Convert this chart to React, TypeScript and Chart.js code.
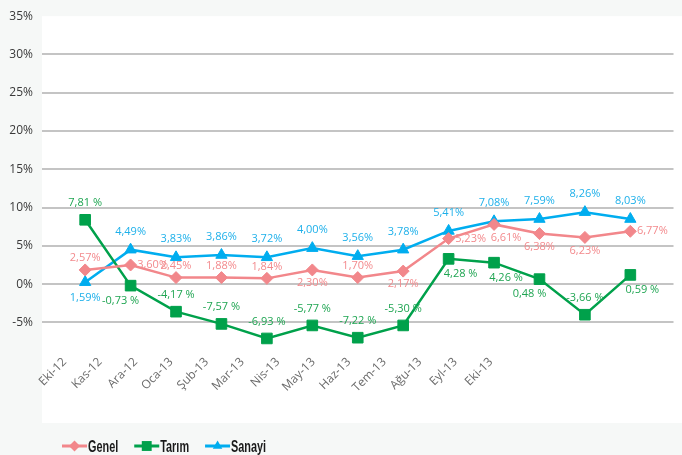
import React, { useEffect, useRef } from 'react';
import { Chart, registerables } from 'chart.js';

Chart.register(...registerables);

const categories = ['Eki-12', 'Kas-12', 'Ara-12', 'Oca-13', 'Şub-13', 'Mar-13', 'Nis-13', 'May-13', 'Haz-13', 'Tem-13', 'Ağu-13', 'Eyl-13', 'Eki-13'];

const genel = [1.85, 2.5, 0.85, 0.85, 0.75, 1.85, 0.85, 1.7, 5.95, 7.8, 6.6, 6.1, 6.9];
const tarim = [8.4, -0.2, -3.6, -5.2, -7.1, -5.4, -7.0, -5.4, 3.3, 2.8, 0.65, -4.0, 1.2];
const sanayi = [0.25, 4.5, 3.5, 3.8, 3.5, 4.7, 3.65, 4.5, 6.95, 8.2, 8.5, 9.4, 8.5];

const genelLabels = ['2,57%', '3,60%', '2,45%', '1,88%', '1,84%', '2,30%', '1,70%', '2,17%', '5,23%', '6,61%', '6,38%', '6,23%', '6,77%'];
const tarimLabels = ['7,81 %', '-0,73 %', '-4,17 %', '-7,57 %', '-6,93 %', '-5,77 %', '-7,22 %', '-5,30 %', '4,28 %', '4,26 %', '0,48 %', '-3,66 %', '0,59 %'];
const sanayiLabels = ['1,59%', '4,49%', '3,83%', '3,86%', '3,72%', '4,00%', '3,56%', '3,78%', '5,41%', '7,08%', '7,59%', '8,26%', '8,03%'];

const yTickValues = [-5, 0, 5, 10, 15, 20, 25, 30, 35];

// label placement styles (not data)
const genelAnchors = ['top', 'right', 'top', 'top', 'top', 'bottom', 'top', 'bottom', 'right', 'bottomRight', 'bottom', 'bottom', 'right'];
const tarimAnchors = ['top', 'bottomLeft', 'top', 'top', 'top', 'top', 'top', 'top', 'bottomRight', 'bottomRight', 'bottomLeft', 'top', 'bottomRight'];
const sanayiAnchors = ['bottom', 'top', 'top', 'top', 'top', 'top', 'top', 'top', 'top', 'top', 'top', 'top', 'top'];

const PINK = '#f2878b';
const GREEN = '#00a14b';
const BLUE = '#00adef';

const bgPlugin = {
  id: 'bgPlugin',
  beforeDraw(chart: any) {
    const { ctx, chartArea, width, height } = chart;
    ctx.save();
    ctx.fillStyle = '#f6f8f7';
    ctx.fillRect(0, 0, width, height);
    ctx.fillStyle = '#ffffff';
    ctx.fillRect(chartArea.left, chartArea.top, width - chartArea.left, 423 - chartArea.top);
    ctx.restore();
  },
};

const labelPlugin = {
  id: 'labelPlugin',
  afterDatasetsDraw(chart: any) {
    const { ctx } = chart;
    ctx.save();
    ctx.font = '11px "Open Sans", "Noto Sans", sans-serif';
    ctx.textAlign = 'center';
    ctx.textBaseline = 'middle';
    chart.data.datasets.forEach((ds: any, di: number) => {
      const meta = chart.getDatasetMeta(di);
      const st = ds.labelStyle;
      meta.data.forEach((pt: any, i: number) => {
        const a = st.anchors[i];
        let dx = 0;
        let dy = 0;
        if (a === 'top') dy = -st.up;
        else if (a === 'bottom') dy = st.down;
        else if (a === 'right') { dx = 22; dy = 0; }
        else if (a === 'bottomRight') { dx = 12; dy = st.down; }
        else if (a === 'bottomLeft') { dx = -10; dy = st.down; }
        ctx.fillStyle = st.color;
        ctx.fillText(st.texts[i], pt.x + dx, pt.y + dy);
      });
    });
    ctx.restore();
  },
};

function drawMarker(ctx: CanvasRenderingContext2D, style: string, x: number, y: number, r: number) {
  ctx.beginPath();
  if (style === 'rectRot') {
    ctx.moveTo(x, y - r);
    ctx.lineTo(x + r, y);
    ctx.lineTo(x, y + r);
    ctx.lineTo(x - r, y);
  } else if (style === 'rect') {
    const s = r * Math.SQRT1_2;
    ctx.rect(x - s, y - s, 2 * s, 2 * s);
  } else {
    ctx.moveTo(x, y - r);
    ctx.lineTo(x + r * 0.866, y + r / 2);
    ctx.lineTo(x - r * 0.866, y + r / 2);
  }
  ctx.closePath();
  ctx.fill();
}

const legendPlugin = {
  id: 'legendPlugin',
  afterDraw(chart: any) {
    const { ctx } = chart;
    ctx.save();
    let x = 62;
    const y = 446;
    const squeeze = 0.64;
    ctx.font = 'bold 17px "Liberation Sans", Arial, sans-serif';
    ctx.textBaseline = 'middle';
    ctx.textAlign = 'left';
    chart.data.datasets.forEach((ds: any) => {
      ctx.strokeStyle = ds.borderColor;
      ctx.lineWidth = 3;
      ctx.beginPath();
      ctx.moveTo(x, y);
      ctx.lineTo(x + 25, y);
      ctx.stroke();
      ctx.fillStyle = ds.borderColor;
      drawMarker(ctx, ds.pointStyle, x + 12.5, y, ds.pointStyle === 'rect' ? 7 : 5.5);
      ctx.fillStyle = '#1a1a1a';
      const tw = ctx.measureText(ds.label).width * squeeze;
      ctx.save();
      ctx.translate(x + 26, y + 1);
      ctx.scale(squeeze, 1);
      ctx.fillText(ds.label, 0, 0);
      ctx.restore();
      x += 26 + tw + 16;
    });
    ctx.restore();
  },
};

export default function App() {
  const ref = useRef<HTMLCanvasElement | null>(null);

  useEffect(() => {
    if (!ref.current) return;
    const mk = (label: string, data: number[], color: string, style: string, radius: number, texts: string[], anchors: string[], labelColor: string, up: number, down: number) => ({
      label,
      data: data.map((v, i) => ({ x: i, y: v })),
      borderColor: color,
      backgroundColor: color,
      borderWidth: 2.5,
      pointStyle: style,
      pointRadius: radius,
      pointBorderWidth: 1,
      pointBackgroundColor: color,
      pointBorderColor: color,
      tension: 0,
      xAxisID: 'x',
      yAxisID: 'y',
      labelStyle: { texts, anchors, color: labelColor, up, down },
    });

    const chart = new Chart(ref.current, {
      type: 'line',
      data: {
        datasets: [
          mk('Genel', genel, PINK, 'rectRot', 6, genelLabels, genelAnchors, '#f38a8d', 12, 13),
          mk('Tarım', tarim, GREEN, 'rect', 7.5, tarimLabels, tarimAnchors, '#1fa552', 17, 15),
          mk('Sanayi', sanayi, BLUE, 'triangle', 6.5, sanayiLabels, sanayiAnchors, '#1eb0ea', 18, 16),
        ] as any,
      },
      options: {
        responsive: false,
        animation: false,
        layout: { padding: { top: 14, left: 0, right: 0, bottom: 0 } },
        plugins: {
          legend: { display: false },
          tooltip: { enabled: false },
        },
        scales: {
          x: {
            type: 'linear',
            display: false,
            min: -0.95,
            max: categories.length - 1 + 0.95,
          },
          xl: {
            type: 'linear',
            position: 'bottom',
            min: -0.64,
            max: 17.14,
            grid: { display: false, drawTicks: false },
            border: { display: false },
            afterBuildTicks: (scale: any) => {
              scale.ticks = categories.map((_, i) => ({ value: i }));
            },
            afterFit: (scale: any) => {
              scale.height = 102;
            },
            ticks: {
              autoSkip: false,
              minRotation: 45,
              maxRotation: 45,
              padding: 2,
              color: '#6b6b6b',
              font: { family: '"Open Sans", "Noto Sans", sans-serif', size: 12 },
              callback: (v: any) => categories[v] ?? '',
            },
          },
          y: {
            type: 'linear',
            min: -9,
            max: 35,
            afterBuildTicks: (scale: any) => {
              scale.ticks = yTickValues.map((v) => ({ value: v }));
            },
            afterFit: (scale: any) => {
              scale.width = 42;
            },
            grid: {
              drawTicks: false,
              color: (c: any) => (c.tick && c.tick.value === 35 ? 'rgba(0,0,0,0)' : '#c4c4c4'),
              lineWidth: 2,
            },
            border: { display: false },
            ticks: {
              padding: 9,
              color: '#3a3a3a',
              font: { family: '"Open Sans", "Noto Sans", sans-serif', size: 12 },
              callback: (v: any) => `${v}%`,
            },
          },
        } as any,
      },
      plugins: [bgPlugin, labelPlugin, legendPlugin],
    });
    return () => chart.destroy();
  }, []);

  return (
    <div style={{ position: 'absolute', left: 0, top: 0, width: 682, height: 455 }}>
      <canvas ref={ref} width={682} height={455} />
    </div>
  );
}
